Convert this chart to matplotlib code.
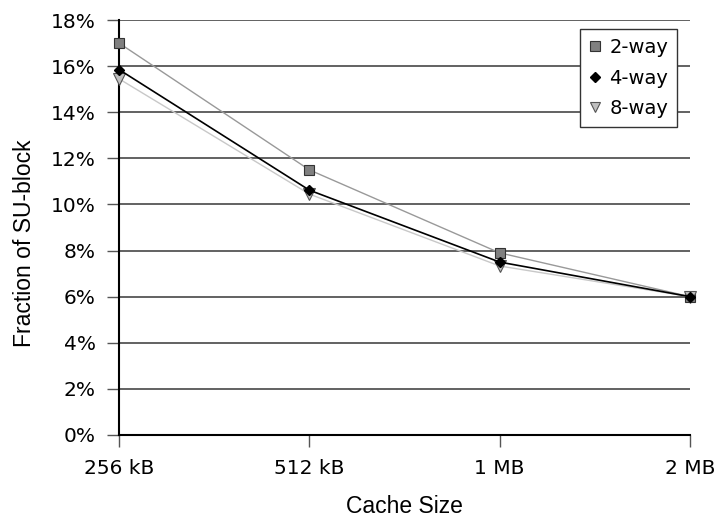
import matplotlib
matplotlib.use("Agg")
import matplotlib.pyplot as plt
from matplotlib.ticker import FuncFormatter
from matplotlib.lines import Line2D

categories = ["256 kB", "512 kB", "1 MB", "2 MB"]
way2 = [17.0, 11.5, 7.9, 6.0]
way4 = [15.85, 10.62, 7.5, 6.0]
way8 = [15.45, 10.45, 7.33, 6.0]
yticks = [0, 2, 4, 6, 8, 10, 12, 14, 16, 18]

plt.rcParams['font.family'] = ['DejaVu Sans']
fig = plt.figure(figsize=(7.15, 5.21), dpi=100)
ax = fig.add_axes([119/715, 86/521, 571/715, 415/521])

x = list(range(len(categories)))
ax.set_xlim(0, 3)
ax.set_ylim(0, 18)
for yv in yticks[1:]:
    ax.axhline(yv, color='#555555', lw=1.3, zorder=1)

st2 = dict(marker='s', ms=7, mfc='#808080', mec='#333333', mew=0.8)
st4 = dict(marker='D', ms=5.5, mfc='#000000', mec='#000000')
st8 = dict(marker='v', ms=8, mfc='#c0c0c0', mec='#555555', mew=0.8)
ax.plot(x, way2, color='#999999', lw=1, zorder=3, clip_on=False, **st2)
ax.plot(x, way4, color='#000000', lw=1.2, zorder=4, clip_on=False, **st4)
ax.plot(x, way8, color='#c8c8c8', lw=1, zorder=3, clip_on=False, **st8)

ax.set_xticks(x)
ax.set_xticklabels(categories)
ax.set_yticks(yticks)
ax.yaxis.set_major_formatter(FuncFormatter(lambda v, p: f"{int(v)}%"))
ax.tick_params(axis='both', labelsize=14.5, length=8.6, width=1, color='#555555', pad=9)
ax.tick_params(axis='y', pad=8)
for s in ['top', 'right']:
    ax.spines[s].set_visible(False)
ax.spines['left'].set_linewidth(1.5)
ax.spines['bottom'].set_linewidth(1.5)

ax.set_xlabel("Cache Size", fontsize=16.5, family='Liberation Sans', labelpad=12)
ax.set_ylabel("Fraction of SU-block", fontsize=16.5, family='Liberation Sans')
ax.yaxis.set_label_coords(-0.145, 0.462)

lg2 = dict(st2, ms=6.5)
lg4 = dict(st4, ms=5.5)
lg8 = dict(st8, ms=7)
handles = [Line2D([], [], ls='none', **lg2), Line2D([], [], ls='none', **lg4), Line2D([], [], ls='none', **lg8)]
leg = ax.legend(handles, ["2-way", "4-way", "8-way"], loc='upper right',
                bbox_to_anchor=(0.9773, 0.978), borderaxespad=0, fontsize=14, frameon=True,
                fancybox=False, edgecolor='#333333', framealpha=1, handlelength=0.6,
                handletextpad=0.45, borderpad=0.45, labelspacing=0.6)
leg.get_frame().set_linewidth(1)

fig.savefig("out.png", dpi=100)
